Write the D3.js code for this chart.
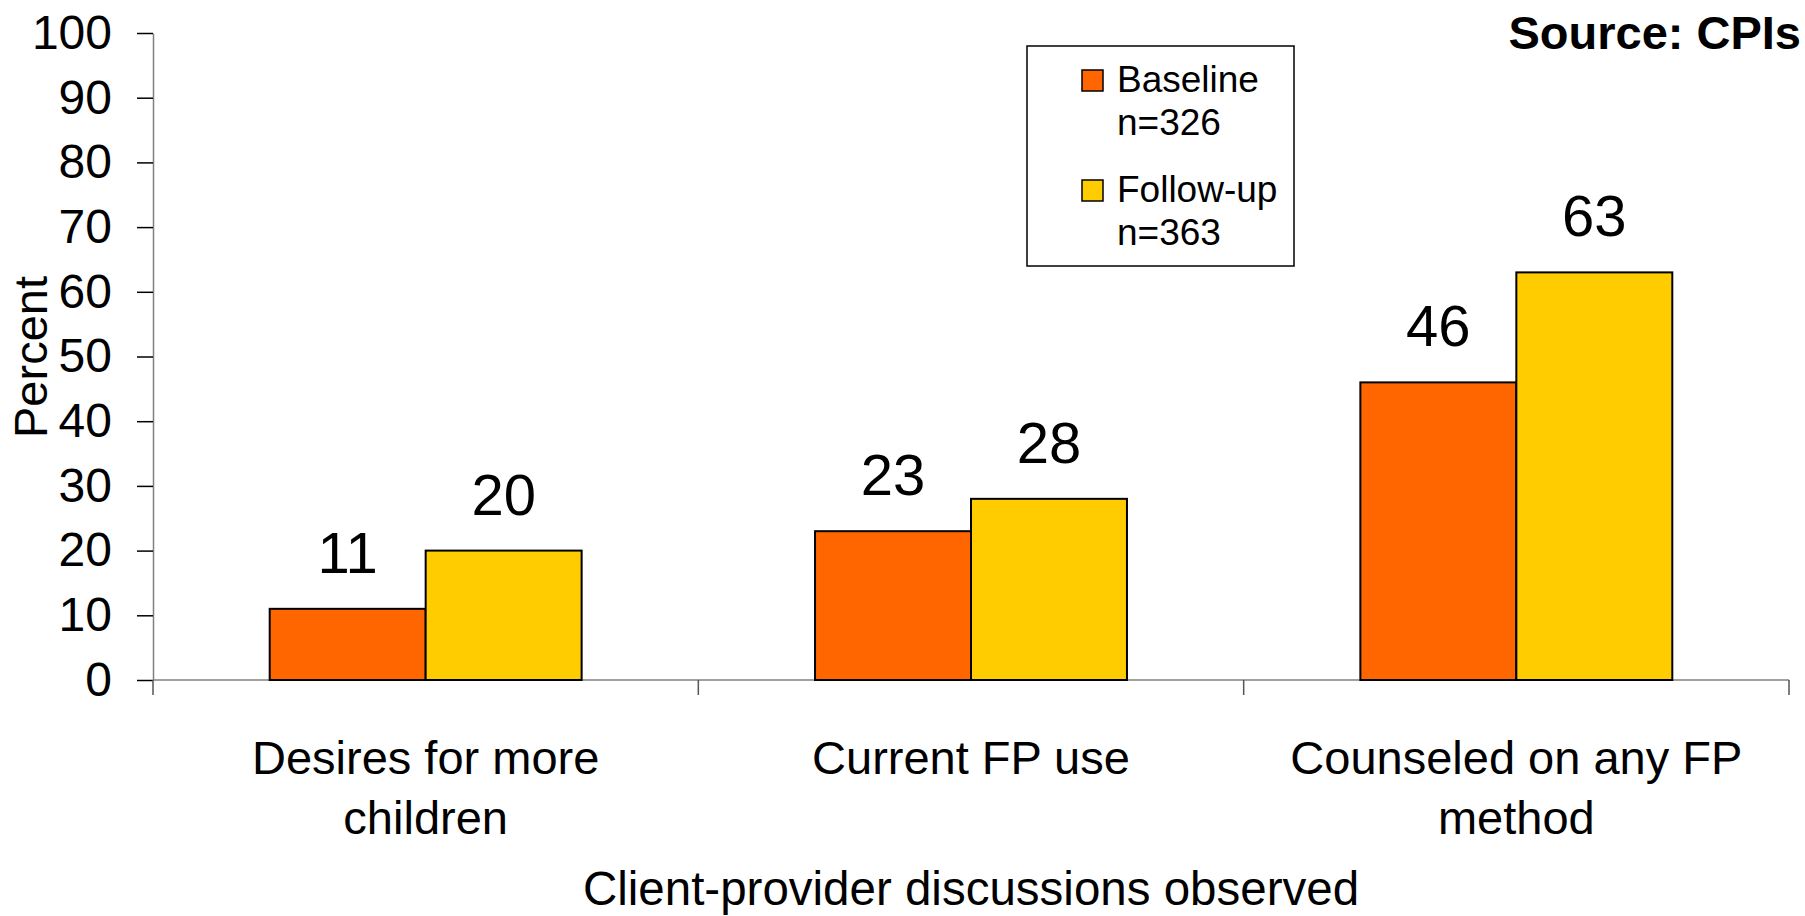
<!DOCTYPE html>
<html>
<head>
<meta charset="utf-8">
<script src="https://cdn.jsdelivr.net/npm/d3@7.9.0/dist/d3.min.js"></script>
<style>
    body { margin: 0; background: #fff; }
    svg { display: block; font-family: "Liberation Sans", Arial, sans-serif; }
</style>
</head>
<body>
<div id="chart"></div>
<script>
// data
const categories = ['Desires for more children', 'Current FP use', 'Counseled on any FP method'];
const categoryLines = [['Desires for more', 'children'], ['Current FP use'], ['Counseled on any FP', 'method']];
const seriesNames = ['Baseline', 'Follow-up'];
const seriesN = ['n=326', 'n=363'];
const seriesColors = ['#FF6600', '#FFCC00'];
const baselineValues = [11, 23, 46];
const followupValues = [20, 28, 63];
const yTicks = [0, 10, 20, 30, 40, 50, 60, 70, 80, 90, 100];

const width = 1805;
const height = 916;
const margin = { top: 33, right: 16, bottom: 236, left: 153 };

const usableArea = {
    top: margin.top,
    right: width - margin.right,
    bottom: height - margin.bottom,
    left: margin.left,
};

const rows = categories.map((c, i) => ({
    category: c,
    lines: categoryLines[i],
    values: [baselineValues[i], followupValues[i]],
}));

const svg = d3.select('#chart')
    .append('svg')
    .attr('width', width)
    .attr('height', height);

const xScale = d3.scaleBand()
    .domain(categories)
    .range([usableArea.left, usableArea.right])
    .paddingInner(0.428)
    .paddingOuter(0.214);

const xSub = d3.scaleBand()
    .domain(seriesNames)
    .range([0, xScale.bandwidth()]);

const yScale = d3.scaleLinear()
    .domain([0, 100])
    .range([usableArea.bottom, usableArea.top]);

// y axis
const yAxis = svg.append('g')
    .attr('transform', `translate(${usableArea.left}, 0)`)
    .call(d3.axisLeft(yScale).tickValues(yTicks).tickSize(16).tickSizeOuter(0).tickPadding(25));
yAxis.select('.domain').attr('stroke', '#808080').attr('stroke-width', 1.5);
yAxis.selectAll('.tick line').attr('stroke', '#000').attr('stroke-width', 1.5);
yAxis.selectAll('.tick text')
    .attr('font-size', 48)
    .attr('font-family', '"Liberation Sans", Arial, sans-serif')
    .attr('fill', '#000');

// x axis with ticks at category boundaries
const step = xScale.step();
const boundaries = d3.range(categories.length + 1).map(i => usableArea.left + i * step);

svg.append('line')
    .attr('x1', usableArea.left).attr('x2', usableArea.right)
    .attr('y1', usableArea.bottom).attr('y2', usableArea.bottom)
    .attr('stroke', '#808080').attr('stroke-width', 1.5);

svg.append('g')
    .selectAll('line')
    .data(boundaries)
    .join('line')
    .attr('x1', d => d).attr('x2', d => d)
    .attr('y1', usableArea.bottom).attr('y2', usableArea.bottom + 15)
    .attr('stroke', '#555').attr('stroke-width', 1.5);

// bars
const groups = svg.append('g')
    .selectAll('g')
    .data(rows)
    .join('g')
    .attr('transform', d => `translate(${xScale(d.category)}, 0)`);

groups.selectAll('rect')
    .data(d => d.values.map((v, i) => ({ series: seriesNames[i], value: v, color: seriesColors[i] })))
    .join('rect')
    .attr('x', d => xSub(d.series))
    .attr('y', d => yScale(d.value))
    .attr('width', xSub.bandwidth())
    .attr('height', d => yScale(0) - yScale(d.value))
    .attr('fill', d => d.color)
    .attr('stroke', '#000')
    .attr('stroke-width', 2);

groups.selectAll('text.value')
    .data(d => d.values.map((v, i) => ({ series: seriesNames[i], value: v })))
    .join('text')
    .attr('class', 'value')
    .attr('x', d => xSub(d.series) + xSub.bandwidth() / 2)
    .attr('y', d => yScale(d.value) - 36)
    .attr('text-anchor', 'middle')
    .attr('font-size', 58)
    .text(d => d.value);

// category labels
const catLabels = svg.append('g')
    .selectAll('text')
    .data(rows)
    .join('text')
    .attr('x', d => xScale(d.category) + xScale.bandwidth() / 2)
    .attr('y', 774)
    .attr('text-anchor', 'middle')
    .attr('font-size', 47);

catLabels.selectAll('tspan')
    .data(d => d.lines)
    .join('tspan')
    .attr('x', function () { return d3.select(this.parentNode).attr('x'); })
    .attr('dy', (d, i) => i === 0 ? 0 : 60)
    .text(d => d);

// axis titles
svg.append('text')
    .attr('x', (usableArea.left + usableArea.right) / 2)
    .attr('y', 905)
    .attr('text-anchor', 'middle')
    .attr('font-size', 47.5)
    .text('Client-provider discussions observed');

svg.append('text')
    .attr('transform', 'translate(47, 357) rotate(-90)')
    .attr('text-anchor', 'middle')
    .attr('font-size', 47)
    .text('Percent');

// source note
svg.append('text')
    .attr('x', 1801)
    .attr('y', 49)
    .attr('text-anchor', 'end')
    .attr('font-size', 47)
    .attr('font-weight', 'bold')
    .text('Source: CPIs');

// legend
const legend = svg.append('g').attr('transform', 'translate(1027, 46)');
legend.append('rect')
    .attr('width', 267).attr('height', 220)
    .attr('fill', '#fff').attr('stroke', '#000').attr('stroke-width', 1.5);

const entries = legend.selectAll('g.entry')
    .data(seriesNames)
    .join('g')
    .attr('class', 'entry')
    .attr('transform', (d, i) => `translate(0, ${i * 110})`);

entries.append('rect')
    .attr('x', 55).attr('y', 24)
    .attr('width', 21).attr('height', 21)
    .attr('fill', (d, i) => seriesColors[i])
    .attr('stroke', '#000').attr('stroke-width', 1.5);

entries.append('text')
    .attr('x', 90).attr('y', 46)
    .attr('font-size', 37)
    .text(d => d);

entries.append('text')
    .attr('x', 90).attr('y', 89)
    .attr('font-size', 37)
    .text((d, i) => seriesN[i]);
</script>
</body>
</html>
